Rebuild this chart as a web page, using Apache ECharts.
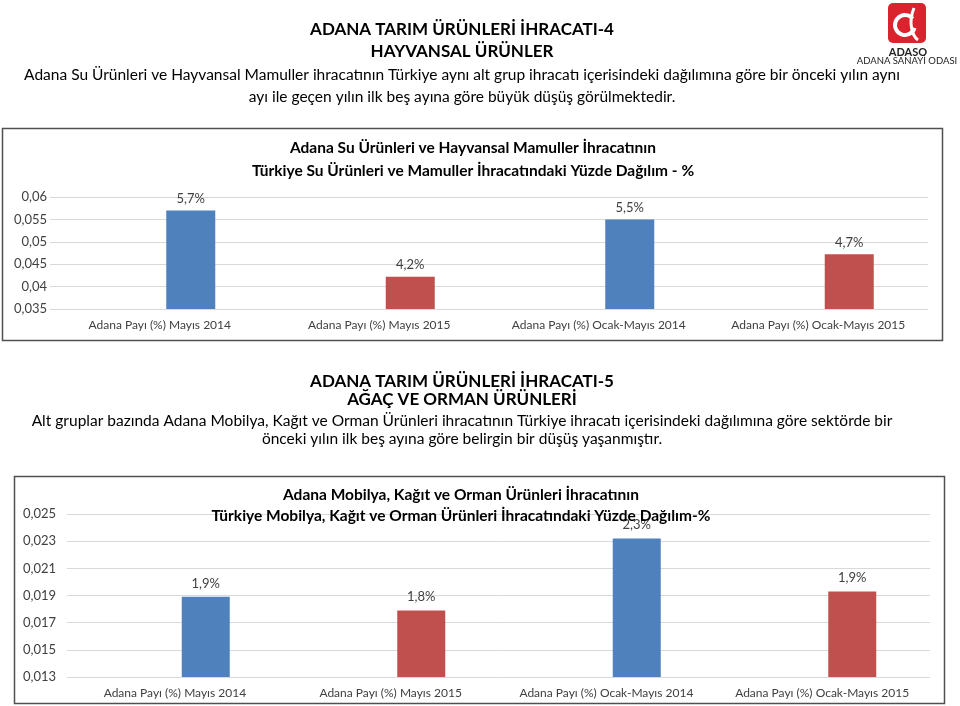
<!DOCTYPE html>
<html>
<head>
<meta charset="utf-8">
<script src="https://cdn.jsdelivr.net/npm/echarts@6/dist/echarts.min.js"></script>
<style>html,body{margin:0;padding:0;background:#fff}#c{width:960px;height:706px}</style>
</head>
<body>
<div id="c"></div>
<script>
// ---- data ----
var categories = ['Adana Payı (%) Mayıs 2014', 'Adana Payı (%) Mayıs 2015', 'Adana Payı (%) Ocak-Mayıs 2014', 'Adana Payı (%) Ocak-Mayıs 2015'];
var hayvansalValues = [0.057, 0.0422, 0.055, 0.0472];
var ormanValues = [0.0189, 0.0179, 0.0232, 0.0193];
var hayvansalTicks = [0.035, 0.04, 0.045, 0.05, 0.055, 0.06];
var ormanTicks = [0.013, 0.015, 0.017, 0.019, 0.021, 0.023, 0.025];
var barColors = ['#4F81BD', '#C0504D', '#4F81BD', '#C0504D'];

var FONT = 'Lato';
var chart = echarts.init(document.getElementById('c'), null, {renderer: 'canvas'});

function yFmt(v) { return String(+(+v).toFixed(4)).replace('.', ','); }
function pctFmt(p) { return (p.value * 100).toFixed(1).replace('.', ',') + '%'; }

function labelAxis(idx) {
  return {
    type: 'category', gridIndex: idx, data: categories,
    axisLine: {show: false}, axisTick: {show: false},
    axisLabel: {color: '#404040', fontFamily: FONT, fontSize: 12, margin: 10, interval: 0}
  };
}
function valueAxis(idx, ticks, margin) {
  return {
    type: 'value', gridIndex: idx, min: ticks[0], max: ticks[ticks.length - 1],
    axisLine: {show: false}, axisTick: {show: false, customValues: ticks},
    axisLabel: {customValues: ticks, formatter: yFmt, color: '#404040', fontFamily: FONT, fontSize: 13, margin: margin},
    splitLine: {show: true, lineStyle: {color: '#D9D9D9', width: 1}}
  };
}
function barSeries(xi, yi, values, width, dist) {
  return {
    type: 'bar', xAxisIndex: xi, yAxisIndex: yi, barWidth: width,
    data: values.map(function (v, i) { return {value: v, itemStyle: {color: barColors[i]}}; }),
    label: {show: true, position: 'top', distance: dist, formatter: pctFmt, color: '#404040', fontFamily: FONT, fontSize: 13}
  };
}
function txt(s, x, y, font) {
  return {type: 'text', z: 100, silent: true, style: {text: s, x: x, y: y, align: 'center', verticalAlign: 'middle', font: font, fill: '#000'}};
}

var option = {
  animation: false,
  grid: [
    {left: 50, width: 878, top: 197, height: 112},
    {left: 81, width: 878, top: 197, height: 112},
    {left: 67, width: 863, top: 514, height: 163},
    {left: 98, width: 863, top: 514, height: 163}
  ],
  xAxis: [
    labelAxis(0),
    {type: 'category', gridIndex: 1, data: categories, show: false},
    labelAxis(2),
    {type: 'category', gridIndex: 3, data: categories, show: false}
  ],
  yAxis: [
    valueAxis(0, hayvansalTicks, 3),
    {type: 'value', gridIndex: 1, min: hayvansalTicks[0], max: hayvansalTicks[hayvansalTicks.length - 1], show: false, splitLine: {show: false}},
    valueAxis(2, ormanTicks, 11),
    {type: 'value', gridIndex: 3, min: ormanTicks[0], max: ormanTicks[ormanTicks.length - 1], show: false, splitLine: {show: false}}
  ],
  series: [
    barSeries(1, 1, hayvansalValues, 49, 5),
    barSeries(3, 3, ormanValues, 48, 7)
  ],
  graphic: [
    {type: 'rect', z: 0, silent: true, shape: {x: 2.5, y: 128.5, width: 940, height: 212}, style: {fill: null, stroke: '#505050', lineWidth: 1.5}},
    {type: 'rect', z: 0, silent: true, shape: {x: 14.5, y: 476.5, width: 930, height: 227}, style: {fill: null, stroke: '#505050', lineWidth: 1.5}},
    txt('ADANA TARIM ÜRÜNLERİ İHRACATI-4', 462, 30, 'bold 17px ' + FONT),
    txt('HAYVANSAL ÜRÜNLER', 462, 52, 'bold 17px ' + FONT),
    txt('Adana Su Ürünleri ve Hayvansal Mamuller ihracatının Türkiye aynı alt grup ihracatı içerisindeki dağılımına göre bir önceki yılın aynı', 462, 75, '15.5px ' + FONT),
    txt('ayı ile geçen yılın ilk beş ayına göre büyük düşüş görülmektedir.', 462, 97, '15.5px ' + FONT),
    txt('Adana Su Ürünleri ve Hayvansal Mamuller İhracatının', 473, 148, 'bold 15.5px ' + FONT),
    txt('Türkiye Su Ürünleri ve Mamuller İhracatındaki Yüzde Dağılım - %', 473, 171, 'bold 15.5px ' + FONT),
    txt('ADANA TARIM ÜRÜNLERİ İHRACATI-5', 462, 382, 'bold 17px ' + FONT),
    txt('AĞAÇ VE ORMAN ÜRÜNLERİ', 462, 400, 'bold 17px ' + FONT),
    txt('Alt gruplar bazında Adana Mobilya, Kağıt ve Orman Ürünleri ihracatının Türkiye ihracatı içerisindeki dağılımına göre sektörde bir', 462, 421, '15.5px ' + FONT),
    txt('önceki yılın ilk beş ayına göre belirgin bir düşüş yaşanmıştır.', 462, 439, '15.5px ' + FONT),
    txt('Adana Mobilya, Kağıt ve Orman Ürünleri İhracatının', 461, 495, 'bold 15.5px ' + FONT),
    txt('Türkiye Mobilya, Kağıt ve Orman Ürünleri İhracatındaki Yüzde Dağılım-%', 461, 516, 'bold 15.5px ' + FONT),
    // logo
    {type: 'rect', z: 100, silent: true, shape: {x: 888, y: 3, width: 38, height: 40, r: 5}, style: {fill: '#D9232D'}},
    {type: 'arc', z: 101, silent: true, shape: {cx: 905, cy: 25, r: 10, startAngle: 0.3, endAngle: 5.6}, style: {stroke: '#fff', lineWidth: 4, fill: null}},
    {type: 'bezierCurve', z: 101, silent: true, shape: {x1: 914, y1: 8, x2: 918, y2: 40, cpx1: 908, cpy1: 22, cpx2: 912, cpy2: 36}, style: {stroke: '#fff', lineWidth: 3, fill: null}},
    {type: 'text', z: 100, silent: true, style: {text: 'ADASO', x: 908, y: 52, align: 'center', verticalAlign: 'middle', font: 'bold 11px ' + FONT, fill: '#222'}},
    {type: 'text', z: 100, silent: true, style: {text: 'ADANA SANAYİ ODASI', x: 907, y: 61, align: 'center', verticalAlign: 'middle', font: '9.5px ' + FONT, fill: '#222'}}
  ]
};
chart.setOption(option);
</script>
</body>
</html>
